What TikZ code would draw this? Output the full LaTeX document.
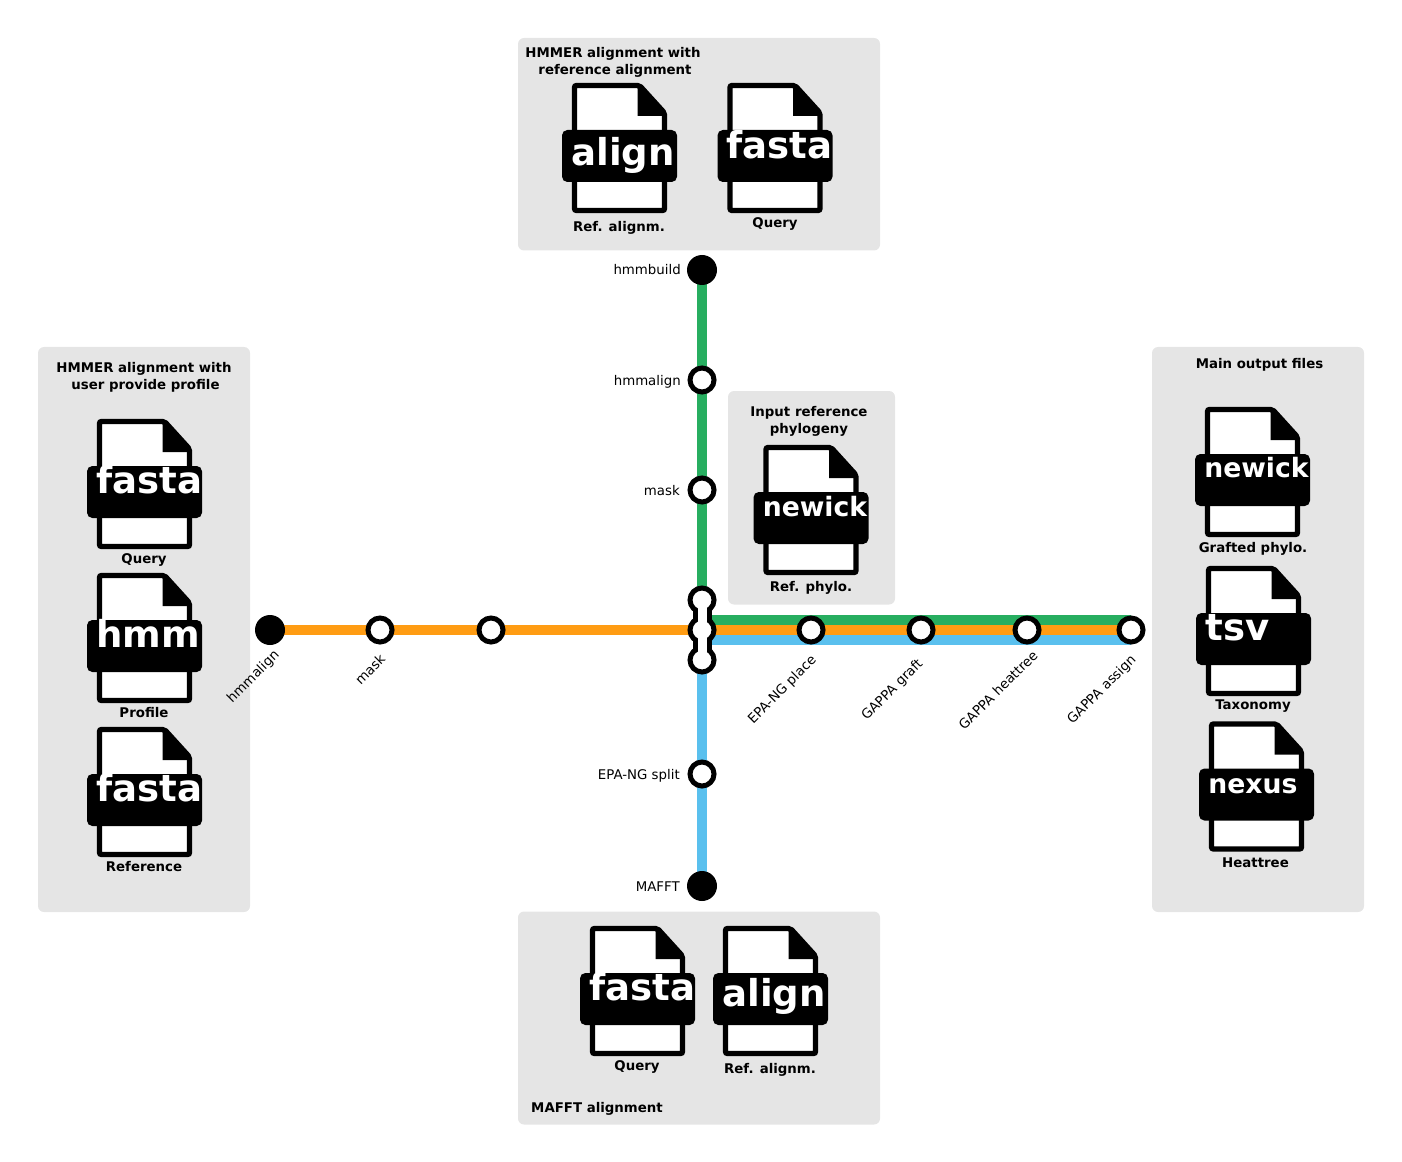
\documentclass[tikz,border=0pt]{standalone}
\usepackage{fontspec}
\setmainfont{DejaVu Sans}
\usepackage{xcolor}
\usetikzlibrary{positioning, backgrounds}
\definecolor{panelgray}{HTML}{E5E5E5}
\definecolor{linegreen}{HTML}{27AE60}
\definecolor{lineorange}{HTML}{FF9C13}
\definecolor{lineblue}{HTML}{5AC0EE}
\tikzstyle{panel} = [fill=panelgray, rounded corners=4.5pt]
\tikzstyle{paneltitle} = [align=center, inner sep=0pt, font=\fontsize{10}{12.75}\selectfont\bfseries]
\tikzstyle{filelabel} = [inner sep=0pt, font=\fontsize{10}{12}\selectfont\bfseries]
\tikzstyle{filepage} = [draw=black, fill=white, line width=4pt, rounded corners=1.5pt]
\tikzstyle{fileband} = [rectangle, rounded corners=4pt, fill=black, minimum width=86.25pt, minimum height=39pt, inner sep=0pt]
\tikzstyle{bigtype} = [text=white, inner sep=0pt, anchor=base west, font=\fontsize{27.8}{30}\selectfont\bfseries]
\tikzstyle{smalltype} = [text=white, inner sep=0pt, anchor=base west, font=\fontsize{20}{24}\selectfont\bfseries]
\tikzstyle{terminus} = [circle, fill=black, minimum size=22.5pt, inner sep=0pt]
\tikzstyle{station} = [circle, draw=black, fill=white, line width=3.75pt, minimum size=18pt, inner sep=0pt]
\tikzstyle{stationlabel} = [inner sep=0pt, font=\fontsize{10}{12}\selectfont]
\tikzstyle{sidelabel} = [stationlabel, text height=7.5pt, text depth=0pt]
\tikzstyle{slanted} = [stationlabel, rotate=45]
\tikzstyle{route} = [line width=7.5pt]
% #1 name, #2 x, #3 top, #4 type, #5 type style, #6 baseline below band top
\newcommand{\fileicon}[6]{
    \begin{scope}[shift={(#2,#3)}]
        \draw [filepage] (-45,2.5) -- (20,2.5) -- (45,30) -- (45,127.5) -- (-45,127.5) -- cycle;
        \fill (18,2.5) -- (18,33) -- (45,33) -- (45,30) -- (20,2.5) -- cycle;
        \node (#1) [fileband] at (0,73) {};
        \node (#1type) [#5] at (-48.5,47+#6) {#4};
    \end{scope}
}
\begin{document}
\begin{tikzpicture}[x=0.75pt, y=-0.75pt]
    \useasboundingbox (0,0) rectangle (1402,1162);

    % panels
    \begin{scope}[on background layer]
        \fill [panel] (518,38) rectangle (880,250.5);
        \fill [panel] (38,347) rectangle (250,912);
        \fill [panel] (728,391) rectangle (895,604.5);
        \fill [panel] (1152,347) rectangle (1364,912);
        \fill [panel] (518,911.5) rectangle (880,1124.5);
    \end{scope}
    \node (titleref) [paneltitle] at (613,62) {HMMER alignment with\\\hspace*{3pt}reference alignment};
    \node (titleuser) [paneltitle] at (144,377) {HMMER alignment with\\\hspace*{2.25pt}user provide profile};
    \node (titlephylo) [paneltitle] at (809,421) {Input reference\\phylogeny};
    \node (titleout) [paneltitle] at (1259.5,364.5) {Main output files};
    \node (titlemafft) [paneltitle] at (597,1108.5) {MAFFT alignment};

    % files
    \fileicon{refalign}{619.5}{83}{align}{bigtype}{35.5}
    \fileicon{refquery}{775}{83}{fasta}{bigtype}{29}
    \fileicon{userquery}{144.5}{419}{fasta}{bigtype}{27.5}
    \fileicon{userprofile}{144.5}{573}{hmm}{bigtype}{27}
    \fileicon{userref}{144.5}{727}{fasta}{bigtype}{27.5}
    \fileicon{inphylo}{811}{445}{newick}{smalltype}{24}
    \fileicon{outphylo}{1252.5}{407}{newick}{smalltype}{23.5}
    \fileicon{outtax}{1253.5}{566}{tsv}{bigtype}{27}
    \fileicon{outheat}{1256.5}{721.5}{nexus}{smalltype}{24.5}
    \fileicon{mafftquery}{637.5}{926}{fasta}{bigtype}{27.5}
    \fileicon{mafftalign}{770.5}{926}{align}{bigtype}{33.5}

    \node (lblrefalign) [filelabel] at (619,228) {Ref. alignm.};
    \node (lblrefquery) [filelabel] at (775,224) {Query};
    \node (lbluserquery) [filelabel] at (144,560) {Query};
    \node (lbluserprofile) [filelabel] at (144,713) {Profile};
    \node (lbluserref) [filelabel] at (144,867) {Reference};
    \node (lblinphylo) [filelabel] at (811,588) {Ref. phylo.};
    \node (lbloutphylo) [filelabel] at (1253,549) {Grafted phylo.};
    \node (lblouttax) [filelabel] at (1253,706) {Taxonomy};
    \node (lbloutheat) [filelabel] at (1255.5,863) {Heattree};
    \node (lblmafftquery) [filelabel] at (637,1067) {Query};
    \node (lblmafftalign) [filelabel] at (770,1070) {Ref. alignm.};

    % stations
    \node (hmmbuild) [terminus] at (702,270) {};
    \node (hmmaligntop) [station] at (702,380) {};
    \node (masktop) [station] at (702,490) {};
    \node (hmmalignleft) [terminus] at (270,630) {};
    \node (maskleft) [station] at (380,630) {};
    \node (lastleft) [station] at (491,630) {};
    \node (hubgreen) [station] at (702,600) {};
    \node (huborange) [station] at (702,630) {};
    \node (hubblue) [station] at (702,660) {};
    \node (epaplace) [station] at (811,630) {};
    \node (gappagraft) [station] at (921,630) {};
    \node (gappaheat) [station] at (1027,630) {};
    \node (gappaassign) [station] at (1131,630) {};
    \node (epasplit) [station] at (702,774) {};
    \node (mafft) [terminus] at (702,886) {};

    \coordinate (turngreen) at (702,620);
    \coordinate (endgreen) at (1131,620);
    \coordinate (turnblue) at (702,640);
    \coordinate (endblue) at (1131,640);

    % routes
    \begin{scope}[on background layer]
        \draw [route, linegreen] (hmmbuild.center) -- (turngreen) -- (endgreen);
        \draw [route, lineblue] (mafft.center) -- (turnblue) -- (endblue);
        \draw [route, lineorange] (hmmalignleft.center) -- (gappaassign.center);
        \draw [line width=14.25pt] (hubgreen.center) -- (hubblue.center);
    \end{scope}
    \draw [white, line width=6.75pt] (hubgreen.center) -- (hubblue.center);

    % station labels
    \node (lblhmmbuild) [sidelabel, left=15.75pt of hmmbuild.center] {hmmbuild};
    \node (lblhmmaligntop) [sidelabel, left=15.75pt of hmmaligntop.center] {hmmalign};
    \node (lblmasktop) [sidelabel, left=16.5pt of masktop.center] {mask};
    \node (lblepasplit) [sidelabel, left=16.5pt of epasplit.center] {EPA-NG split};
    \node (lblmafft) [sidelabel, left=16.5pt of mafft.center] {MAFFT};
    \node (lblhmmalignleft) [slanted] at (253.5,677) {hmmalign};
    \node (lblmaskleft) [slanted] at (370,669) {mask};
    \node (lblepaplace) [slanted] at (782.5,690) {EPA-NG place};
    \node (lblgappagraft) [slanted] at (892.5,690) {GAPPA graft};
    \node (lblgappaheat) [slanted] at (998,690) {GAPPA heattree};
    \node (lblgappaassign) [slanted] at (1102,690) {GAPPA assign};
\end{tikzpicture}
\end{document}
